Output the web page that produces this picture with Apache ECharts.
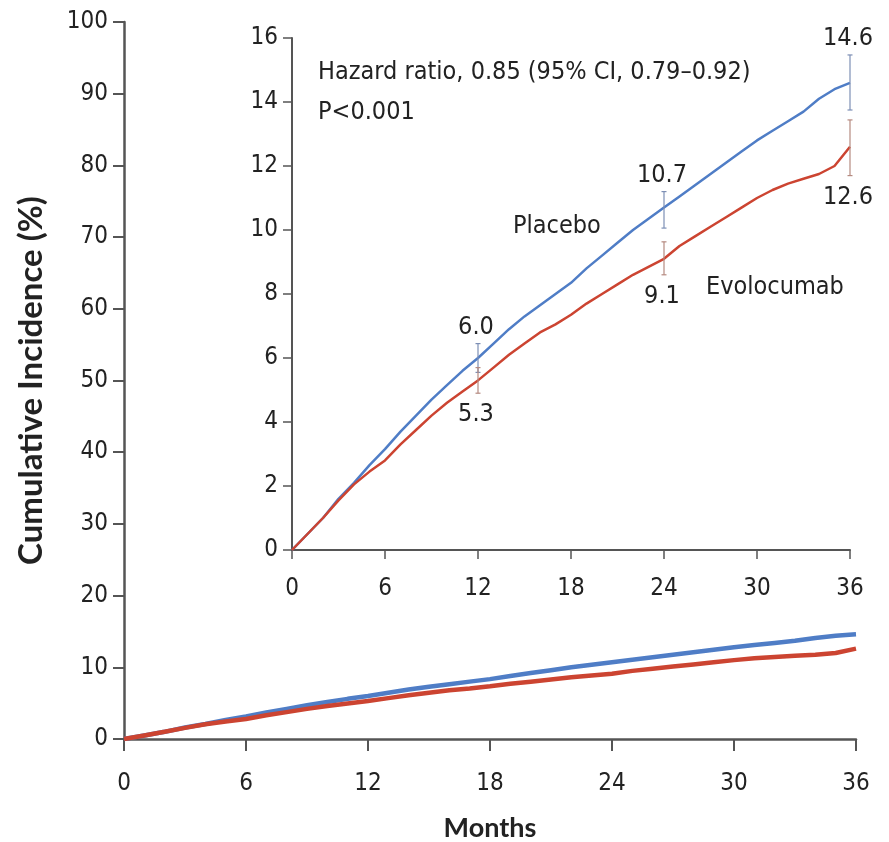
<!DOCTYPE html>
<html><head><meta charset="utf-8">
<script src="https://cdn.jsdelivr.net/npm/echarts@6/dist/echarts.min.js"></script>
<style>html,body{margin:0;padding:0;background:#fff}#c{width:889px;height:842px}</style>
</head><body><div id="c"></div>
<script>
// ---- data ----
const months = [0,1,2,3,4,5,6,7,8,9,10,11,12,13,14,15,16,17,18,19,20,21,22,23,24,25,26,27,28,29,30,31,32,33,34,35,36];
const placebo = [0,0.5,1.0,1.6,2.1,2.65,3.15,3.7,4.2,4.7,5.15,5.6,6.0,6.45,6.9,7.3,7.65,8.0,8.35,8.8,9.2,9.6,10.0,10.35,10.7,11.05,11.4,11.75,12.1,12.45,12.8,13.1,13.4,13.7,14.1,14.4,14.6];
const evolocumab = [0,0.5,1.0,1.55,2.05,2.45,2.8,3.3,3.75,4.2,4.6,4.95,5.3,5.7,6.1,6.45,6.8,7.05,7.35,7.7,8.0,8.3,8.6,8.85,9.1,9.5,9.8,10.1,10.4,10.7,11.0,11.25,11.45,11.6,11.75,12.0,12.6];
const ciMonths = [12,24,36];
const placeboEst = [6.0,10.7,14.6];
const placeboLo = [5.55,10.06,13.75];
const placeboHi = [6.45,11.2,15.47];
const evoEst = [5.3,9.1,12.6];
const evoLo = [4.9,8.6,11.7];
const evoHi = [5.7,9.63,13.44];
const xTicks = {min:0,max:36,interval:6};
const mainY = {min:0,max:100,interval:10};
const insetY = {min:0,max:16,interval:2};

const BLUE = '#4f7dc6', RED = '#cc4431', AX = '#555';
const NARROW = '"Liberation Sans Narrow","DejaVu Sans Condensed","Roboto Condensed",sans-serif';
const BOLD = 'Lato,"Open Sans",sans-serif';
const TICK = 24, TXT = 25;
const zip = (a,b)=>a.map((v,i)=>[v,b[i]]);

function ciSeries(name, est, lo, hi, color, labelAbove){
  return {
    type:'custom', name, xAxisIndex:1, yAxisIndex:1, z:5, silent:true,
    data: ciMonths.map((m,i)=>[m,lo[i],hi[i],est[i]]),
    renderItem:(params, api)=>{
      const x = api.value(0);
      const pLo = api.coord([x, api.value(1)]);
      const pHi = api.coord([x, api.value(2)]);
      const st = {stroke:color, lineWidth:1.2};
      const cap = 2.5;
      const txt = api.value(3).toFixed(1);
      return {type:'group', children:[
        {type:'line', shape:{x1:pLo[0],y1:pLo[1],x2:pHi[0],y2:pHi[1]}, style:st},
        {type:'line', shape:{x1:pLo[0]-cap,y1:pLo[1],x2:pLo[0]+cap,y2:pLo[1]}, style:st},
        {type:'line', shape:{x1:pHi[0]-cap,y1:pHi[1],x2:pHi[0]+cap,y2:pHi[1]}, style:st},
        {type:'text', style:{text:txt, x:pHi[0]-2, y: labelAbove ? pHi[1]-4 : pLo[1]+9,
          align:'center', verticalAlign: labelAbove?'bottom':'top',
          font:TXT+'px '+NARROW, fill:'#222'}}
      ]};
    }
  };
}

const chart = echarts.init(document.getElementById('c'));
chart.setOption({
  backgroundColor:'#fff',
  animation:false,
  grid:[
    {left:124, right:33, top:22, bottom:103, outerBoundsMode:'none', containLabel:false},
    {left:292, right:39, top:38, bottom:292, outerBoundsMode:'none', containLabel:false}
  ],
  xAxis:[
    {gridIndex:0, type:'value', min:xTicks.min, max:xTicks.max, interval:xTicks.interval,
     name:'Months', nameLocation:'middle', nameGap:76,
     nameTextStyle:{fontSize:27, fontWeight:'bold', fontFamily:BOLD, color:'#222'},
     axisLine:{lineStyle:{color:AX,width:2.5}}, axisTick:{length:12,lineStyle:{color:AX,width:2}},
     splitLine:{show:false}, axisLabel:{margin:33, color:'#222', fontSize:TICK, fontFamily:NARROW}},
    {gridIndex:1, type:'value', min:xTicks.min, max:xTicks.max, interval:xTicks.interval,
     axisLine:{lineStyle:{color:AX,width:2}}, axisTick:{length:9,lineStyle:{color:AX,width:1.5}},
     splitLine:{show:false}, axisLabel:{margin:27, color:'#222', fontSize:TICK, fontFamily:NARROW}}
  ],
  yAxis:[
    {gridIndex:0, type:'value', min:mainY.min, max:mainY.max, interval:mainY.interval,
     name:'Cumulative Incidence (%)', nameLocation:'middle', nameGap:76,
     nameTextStyle:{fontSize:33, fontWeight:'bold', fontFamily:BOLD, color:'#222'},
     axisLine:{show:true,lineStyle:{color:AX,width:2.5}}, axisTick:{show:true,length:11,lineStyle:{color:AX,width:2}},
     splitLine:{show:false}, axisLabel:{margin:16, color:'#222', fontSize:TICK, fontFamily:NARROW}},
    {gridIndex:1, type:'value', min:insetY.min, max:insetY.max, interval:insetY.interval,
     axisLine:{show:true,lineStyle:{color:AX,width:2}}, axisTick:{show:true,length:9,lineStyle:{color:AX,width:1.5}},
     splitLine:{show:false}, axisLabel:{margin:14, color:'#222', fontSize:TICK, fontFamily:NARROW}}
  ],
  series:[
    {type:'line', name:'Placebo', xAxisIndex:0, yAxisIndex:0, data:zip(months,placebo), showSymbol:false, lineStyle:{color:BLUE,width:4.5}, z:3},
    {type:'line', name:'Evolocumab', xAxisIndex:0, yAxisIndex:0, data:zip(months,evolocumab), showSymbol:false, lineStyle:{color:RED,width:4.5}, z:4},
    {type:'line', name:'Placebo', xAxisIndex:1, yAxisIndex:1, data:zip(months,placebo), showSymbol:false, lineStyle:{color:BLUE,width:2.5}, z:3},
    {type:'line', name:'Evolocumab', xAxisIndex:1, yAxisIndex:1, data:zip(months,evolocumab), showSymbol:false, lineStyle:{color:RED,width:2.5}, z:4},
    ciSeries('Placebo CI', placeboEst, placeboLo, placeboHi, '#7d8fb5', true),
    ciSeries('Evolocumab CI', evoEst, evoLo, evoHi, '#b58a80', false)
  ],
  graphic:[
    {type:'text', left:318, top:60, style:{text:'Hazard ratio, 0.85 (95% CI, 0.79\u20130.92)', font:TXT+'px '+NARROW, fill:'#222'}},
    {type:'text', left:318, top:100, style:{text:'P<0.001', font:TXT+'px '+NARROW, fill:'#222'}},
    {type:'text', left:513, top:214, style:{text:'Placebo', font:TXT+'px '+NARROW, fill:'#222'}},
    {type:'text', left:706, top:275, style:{text:'Evolocumab', font:TXT+'px '+NARROW, fill:'#222'}}
  ]
});
</script></body></html>
